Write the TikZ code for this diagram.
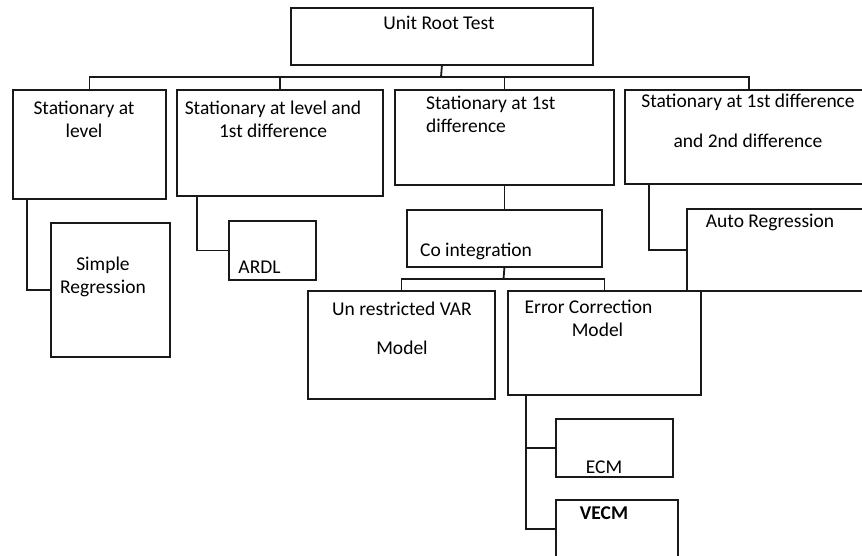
\documentclass[tikz,border=0pt]{standalone}
\usepackage{fontspec}
\setmainfont{Carlito}
\begin{document}
\begin{tikzpicture}[x=1pt,y=-1pt,
  bx/.style={draw=black!90, line width=1.8pt, anchor=north west, inner sep=0pt},
  txt/.style={inner sep=0pt, font=\fontsize{19.5}{23}\selectfont, align=center},
  link/.style={draw=black!90, line width=1.8pt}]
\useasboundingbox (0,0) rectangle (862,555);
\clip (0,0) rectangle (862,555);

% boxes
\node[bx, minimum width=302pt, minimum height=57pt]  (root)  at (290,7)   {};
\node[bx, minimum width=153pt, minimum height=109pt] (s1)    at (12,89)   {};
\node[bx, minimum width=206pt, minimum height=106pt] (s2)    at (176,89)  {};
\node[bx, minimum width=219pt, minimum height=95pt]  (s3)    at (394,89)  {};
\node[bx, minimum width=248pt, minimum height=94pt]  (s4)    at (624,89)  {};
\node[bx, minimum width=119pt, minimum height=134pt] (simp)  at (50,222)  {};
\node[bx, minimum width=87pt,  minimum height=59pt]  (ardl)  at (228,220) {};
\node[bx, minimum width=195pt, minimum height=57pt]  (coint) at (406,209) {};
\node[bx, minimum width=186pt, minimum height=82pt]  (auto)  at (686,208) {};
\node[bx, minimum width=187pt, minimum height=108pt] (var)   at (307,290) {};
\node[bx, minimum width=193pt, minimum height=104pt] (ecmod) at (507,290) {};
\node[bx, minimum width=117pt, minimum height=58pt]  (ecm)   at (555,418) {};
\node[bx, minimum width=122pt, minimum height=58pt]  (vecm)  at (555,499) {};

% labels
\node[txt] (troot) at (439,23) {Unit Root Test};
\node[txt] (ts1) at (84,119) {Stationary at\\level};
\node[txt] (ts2) at (273,119) {Stationary at level and\\1st difference};
\node[txt, anchor=west, align=left] (ts3) at (426,114) {Stationary at 1st\\difference};
\node[txt] (ts4) at (748,121) {Stationary at 1st difference\\[17pt]and 2nd difference};
\node[txt] (tsimp) at (103,277) {Simple\\Regression};
\node[txt] (tardl) at (259.5,267) {ARDL};
\node[txt] (tcoint) at (476,251) {Co integration};
\node[txt] (tauto) at (770,222) {Auto Regression};
\node[txt] (tvar) at (402,328) {Un restricted VAR\\[16pt]Model};
\node[txt, align=left] (tecmod1) at (588.5,307) {Error Correction};
\node[txt] (tecmod2) at (597.5,330) {Model};
\node[txt] (tecm) at (604,467) {ECM};
\node[txt, font=\fontsize{19.5}{23}\selectfont\bfseries] (tvecm) at (604,513) {VECM};

% top level tree
\coordinate (bus) at (441,77);
\draw[link] (root.south) -- (bus);
\draw[link] (s1.north) |- (bus) -| (s4.north);
\draw[link] (s2.north) -- (s2.north |- bus);
\draw[link] (s3.north) -- (s3.north |- bus);

% side branches
\draw[link] ([xshift=15pt]s1.south west) |- (simp.west);
\draw[link] ([xshift=21pt]s2.south west) |- (ardl.west);
\draw[link] ([xshift=25pt]s4.south west) |- (auto.west);
\draw[link] (s3.south) -- (coint.north);

% co-integration split
\coordinate (cbus) at (503.5,279);
\draw[link] (coint.south) -- (cbus);
\draw[link] (var.north) |- (cbus) -| (ecmod.north);

% error correction children
\draw[link] ([xshift=19pt]ecmod.south west) |- (ecm.west);
\draw[link] ([xshift=19pt]ecmod.south west) |- (vecm.west);
\end{tikzpicture}
\end{document}
